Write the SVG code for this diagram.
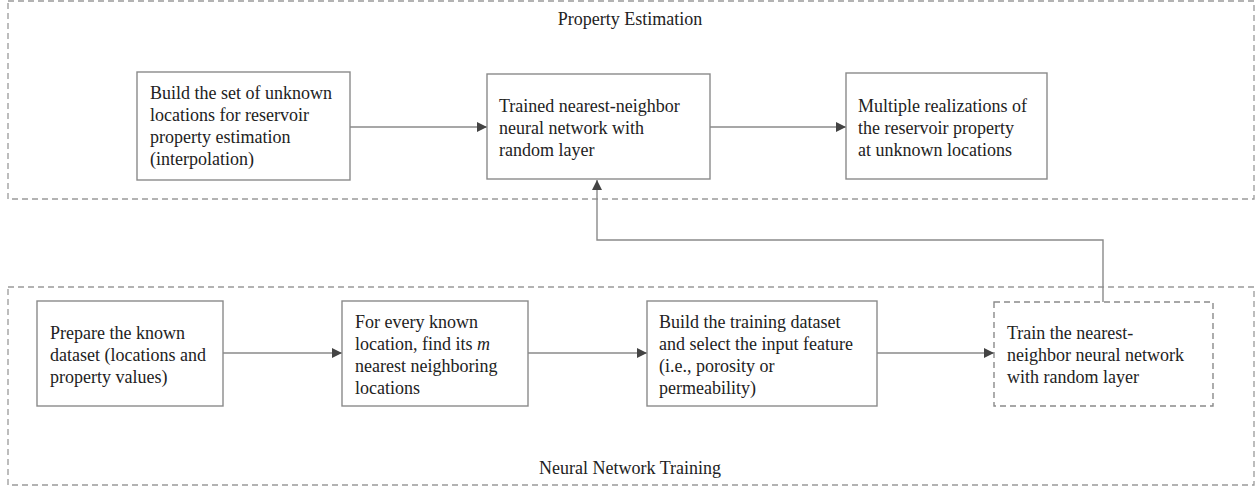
<svg xmlns="http://www.w3.org/2000/svg" width="1258" height="486" viewBox="0 0 1258 486">
<style>
.container{fill:none;stroke:#9a9a9a;stroke-width:1.3;stroke-dasharray:6 4}
.box{fill:#fff;stroke:#8a8a8a;stroke-width:1.4}
.dbox{fill:#fff;stroke:#8a8a8a;stroke-width:1.4;stroke-dasharray:6 4}
.conn{fill:none;stroke:#8a8a8a;stroke-width:1.4}
text{font-family:"Liberation Serif","Times New Roman",serif;font-size:18px;fill:#222}
.title{text-anchor:middle}
</style>
<defs>
<marker id="arr" viewBox="0 0 10 10" refX="10" refY="5" markerWidth="10" markerHeight="10" markerUnits="userSpaceOnUse" orient="auto">
<path d="M0,0 L10,5 L0,10 z" fill="#444"/>
</marker>
</defs>
<g id="property-estimation">
<rect class="container" x="8" y="1" width="1246" height="198"/>
<text class="title" x="630" y="25">Property Estimation</text>
</g>
<g id="neural-network-training">
<rect class="container" x="8" y="287" width="1246" height="198"/>
<text class="title" x="630" y="474">Neural Network Training</text>
</g>
<g id="connectors">
<line class="conn" x1="350" y1="127" x2="487" y2="127" marker-end="url(#arr)"/>
<line class="conn" x1="710" y1="127" x2="846" y2="127" marker-end="url(#arr)"/>
<line class="conn" x1="223" y1="353" x2="342" y2="353" marker-end="url(#arr)"/>
<line class="conn" x1="528" y1="353" x2="647" y2="353" marker-end="url(#arr)"/>
<line class="conn" x1="877" y1="353" x2="994" y2="353" marker-end="url(#arr)"/>
<polyline class="conn" points="1103,302 1103,240 597,240 597,180" marker-end="url(#arr)"/>
</g>
<g id="build-unknown">
<rect class="box" x="137" y="72" width="213" height="108"/>
<text x="150" y="99">Build the set of unknown</text>
<text x="150" y="121">locations for reservoir</text>
<text x="150" y="143">property estimation</text>
<text x="150" y="165">(interpolation)</text>
</g>
<g id="trained-nn">
<rect class="box" x="487" y="74" width="223" height="105"/>
<text x="499" y="112">Trained nearest-neighbor</text>
<text x="499" y="134">neural network with</text>
<text x="499" y="156">random layer</text>
</g>
<g id="realizations">
<rect class="box" x="846" y="73" width="201" height="106"/>
<text x="858" y="112">Multiple realizations of</text>
<text x="858" y="134">the reservoir property</text>
<text x="858" y="156">at unknown locations</text>
</g>
<g id="prepare">
<rect class="box" x="37" y="301" width="186" height="105"/>
<text x="50" y="339">Prepare the known</text>
<text x="50" y="361">dataset (locations and</text>
<text x="50" y="383">property values)</text>
</g>
<g id="find-neighbors">
<rect class="box" x="342" y="301" width="186" height="105"/>
<text x="355" y="328">For every known</text>
<text x="355" y="350">location, find its <tspan font-style="italic">m</tspan></text>
<text x="355" y="372">nearest neighboring</text>
<text x="355" y="394">locations</text>
</g>
<g id="build-training">
<rect class="box" x="647" y="301" width="230" height="105"/>
<text x="659" y="328">Build the training dataset</text>
<text x="659" y="350">and select the input feature</text>
<text x="659" y="372">(i.e., porosity or</text>
<text x="659" y="394">permeability)</text>
</g>
<g id="train-nn">
<rect class="dbox" x="994" y="302" width="219" height="104"/>
<text x="1007" y="339">Train the nearest-</text>
<text x="1007" y="361">neighbor neural network</text>
<text x="1007" y="383">with random layer</text>
</g>
</svg>
